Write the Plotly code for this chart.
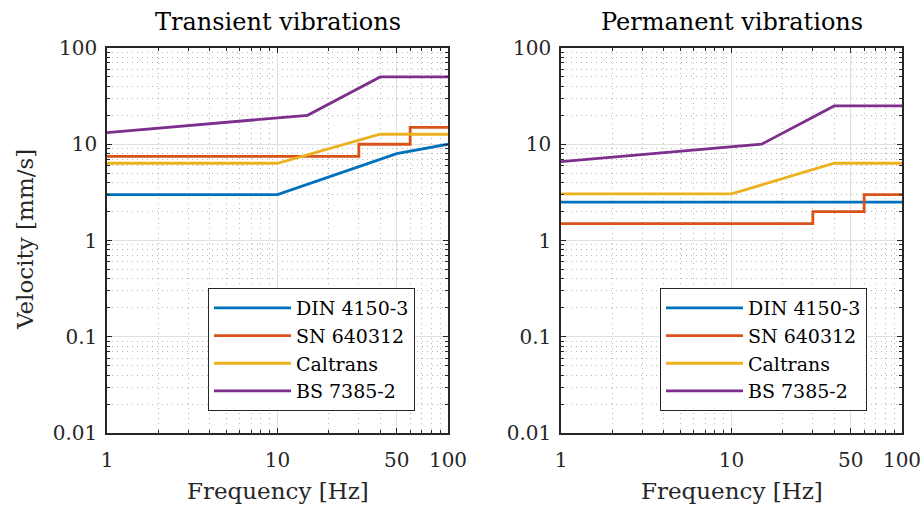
import plotly.graph_objects as go

# ---------------- data ----------------
names = ["DIN 4150-3", "SN 640312", "Caltrans", "BS 7385-2"]
colors = ["#0072BD", "#D95319", "#EDB120", "#7E2F8E"]

# Transient vibrations
tr_din_f = [1, 10, 50, 100]
tr_din_v = [3, 3, 8, 10]
tr_sn_f = [1, 30, 30, 60, 60, 100]
tr_sn_v = [7.5, 7.5, 10, 10, 15, 15]
tr_cal_f = [1, 10, 40, 100]
tr_cal_v = [6.35, 6.35, 12.7, 12.7]
tr_bs_f = [1, 15, 40, 100]
tr_bs_v = [13.2, 20, 50, 50]

# Permanent vibrations
pe_din_f = [1, 100]
pe_din_v = [2.5, 2.5]
pe_sn_f = [1, 30, 30, 60, 60, 100]
pe_sn_v = [1.5, 1.5, 2, 2, 3, 3]
pe_cal_f = [1, 10, 40, 100]
pe_cal_v = [3.05, 3.05, 6.35, 6.35]
pe_bs_f = [1, 15, 40, 100]
pe_bs_v = [6.6, 10, 25, 25]

x_ticks = [1, 10, 50, 100]
x_ticklabels = ["1", "10", "50", "100"]
x_minor = [2, 3, 4, 5, 6, 7, 8, 9, 20, 30, 40, 60, 70, 80, 90]
y_ticks = [0.01, 0.1, 1, 10, 100]
y_ticklabels = ["0.01", "0.1", "1", "10", "100"]
y_minor = [m * d for d in (0.01, 0.1, 1, 10) for m in range(2, 10)]

FONT = "DejaVu Serif"
W, H = 921, 507

fig = go.Figure()

transient = [(tr_din_f, tr_din_v), (tr_sn_f, tr_sn_v), (tr_cal_f, tr_cal_v), (tr_bs_f, tr_bs_v)]
permanent = [(pe_din_f, pe_din_v), (pe_sn_f, pe_sn_v), (pe_cal_f, pe_cal_v), (pe_bs_f, pe_bs_v)]

for (f, v), n, c in zip(transient, names, colors):
    fig.add_trace(go.Scatter(x=f, y=v, mode="lines", name=n,
                             line=dict(color=c, width=2.8),
                             xaxis="x", yaxis="y", legend="legend"))
for (f, v), n, c in zip(permanent, names, colors):
    fig.add_trace(go.Scatter(x=f, y=v, mode="lines", name=n,
                             line=dict(color=c, width=2.8),
                             xaxis="x2", yaxis="y2", legend="legend2"))

axcol = "#262626"
tickfont = dict(family=FONT, size=20, color=axcol)
minor_grid = dict(ticks="inside", ticklen=3, tickcolor=axcol, showgrid=True,
                  gridcolor="#b4b4b4", griddash="1px,4px", gridwidth=1)


def xaxis(domain, anchor):
    return dict(domain=domain, anchor=anchor, type="log", range=[0, 2],
                tickmode="array", tickvals=x_ticks, ticktext=x_ticklabels,
                ticks="inside", ticklen=5, tickwidth=1, tickcolor=axcol,
                showline=True, linecolor=axcol, linewidth=1.5, mirror="ticks",
                showgrid=True, gridcolor="#e0e0e0", gridwidth=1,
                zeroline=False, tickfont=tickfont, ticklabelstandoff=8,
                ticklabeloverflow="allow", automargin=False,
                minor=dict(tickmode="array", tickvals=x_minor, **minor_grid))


def yaxis(domain, anchor):
    return dict(domain=domain, anchor=anchor, type="log", range=[-2, 2],
                tickmode="array", tickvals=y_ticks, ticktext=y_ticklabels,
                ticks="inside", ticklen=5, tickwidth=1, tickcolor=axcol,
                showline=True, linecolor=axcol, linewidth=1.5, mirror="ticks",
                showgrid=True, gridcolor="#e0e0e0", gridwidth=1,
                zeroline=False, tickfont=tickfont, ticklabelstandoff=4,
                ticklabeloverflow="allow", automargin=False,
                minor=dict(tickmode="array", tickvals=y_minor, **minor_grid))


ydom = [1 - 433 / H, 1 - 48 / H]
xd1 = [107 / W, 448 / W]
xd2 = [561 / W, 902 / W]

legend_style = dict(bgcolor="white", bordercolor=axcol, borderwidth=1,
                    font=dict(family=FONT, size=19, color="black"),
                    itemwidth=77, tracegroupgap=0,
                    xanchor="left", yanchor="top")

fig.update_layout(
    width=W, height=H,
    margin=dict(l=0, r=0, t=0, b=0, autoexpand=False),
    paper_bgcolor="white", plot_bgcolor="white",
    font=dict(family=FONT, color="black"),
    xaxis=xaxis(xd1, "y"), yaxis=yaxis(ydom, "x"),
    xaxis2=xaxis(xd2, "y2"), yaxis2=yaxis(ydom, "x2"),
    legend=dict(x=208 / W, y=1 - 288 / H, **legend_style),
    legend2=dict(x=660 / W, y=1 - 288 / H, **legend_style),
    showlegend=True,
)

ann = []
for xd, t in ((xd1, "Transient vibrations"), (xd2, "Permanent vibrations")):
    ann.append(dict(text=t, x=(xd[0] + xd[1]) / 2, y=1 - 22 / H,
                    xref="paper", yref="paper", showarrow=False,
                    font=dict(family=FONT, size=24, color="black"),
                    xanchor="center", yanchor="middle"))
    ann.append(dict(text="Frequency [Hz]", x=(xd[0] + xd[1]) / 2, y=1 - 491 / H,
                    xref="paper", yref="paper", showarrow=False,
                    font=dict(family=FONT, size=23, color=axcol),
                    xanchor="center", yanchor="middle"))
ann.append(dict(text="Velocity [mm/s]", x=25 / W, y=1 - 240 / H, textangle=-90,
                xref="paper", yref="paper", showarrow=False,
                font=dict(family=FONT, size=23, color=axcol),
                xanchor="center", yanchor="middle"))
fig.update_layout(annotations=ann)

fig.write_html("out.html")
